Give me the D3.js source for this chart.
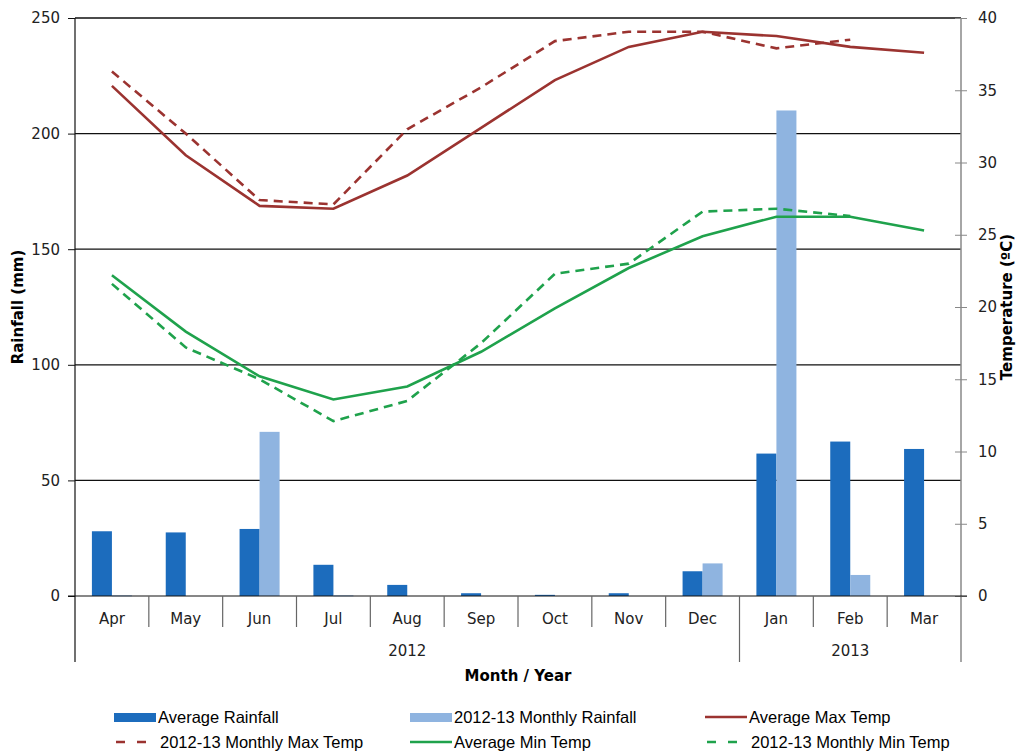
<!DOCTYPE html>
<html>
<head>
<meta charset="utf-8">
<script src="https://cdn.jsdelivr.net/npm/d3@7"></script>
<style>
  body { margin: 0; background: #fff; }
  svg { display: block; }
  .tick text { font-family: "DejaVu Sans", Verdana, sans-serif; font-size: 15px; fill: #222; }
  .title { font-family: "DejaVu Sans", Verdana, sans-serif; font-size: 15px; font-weight: bold; fill: #000; }
  .legend text { font-family: "Liberation Sans Narrow", "Liberation Sans", Arial, sans-serif; font-size: 16.5px; fill: #000; }
</style>
</head>
<body>
<div id="chart"></div>
<script>
// Data
const months = ["Apr", "May", "Jun", "Jul", "Aug", "Sep", "Oct", "Nov", "Dec", "Jan", "Feb", "Mar"];
const years = [
  { label: "2012", first: 0, last: 8 },
  { label: "2013", first: 9, last: 11 }
];
const avgRain     = [28, 27.5, 29, 13.5, 4.8, 1.2, 0.5, 1.2, 10.7, 61.6, 66.8, 63.6];
const monthlyRain = [0.3, 0, 71, 0.3, 0, 0, 0, 0, 14.1, 210, 9.1, null];
const avgMax      = [35.3, 30.5, 27.0, 26.8, 29.1, 32.4, 35.7, 38.0, 39.05, 38.75, 38.0, 37.6];
const monthlyMax  = [36.3, 32.0, 27.4, 27.1, 32.3, 35.2, 38.4, 39.05, 39.05, 37.9, 38.5, null];
const avgMin      = [22.2, 18.3, 15.2, 13.6, 14.5, 16.9, 19.9, 22.7, 24.9, 26.25, 26.25, 25.3];
const monthlyMin  = [21.6, 17.2, 15.0, 12.1, 13.5, 17.5, 22.3, 23.0, 26.6, 26.8, 26.3, null];
const rainTicks = [0, 50, 100, 150, 200, 250];
const tempTicks = [0, 5, 10, 15, 20, 25, 30, 35, 40];

const width = 1019, height = 753;
const margin = { top: 18, right: 58, bottom: 157, left: 75 };
const innerW = width - margin.left - margin.right;
const innerH = height - margin.top - margin.bottom;

const darkBlue = "#1c6cbd", lightBlue = "#8fb4e0";
const maxColor = "#9b3330", minColor = "#1fa24c";

const svg = d3.select("#chart").append("svg")
    .attr("width", width)
    .attr("height", height);

const g = svg.append("g")
    .attr("transform", "translate(" + margin.left + "," + margin.top + ")");

// Scales
const x = d3.scaleBand().domain(months).range([0, innerW]).padding(0);
const xSub = d3.scaleBand().domain(["avg", "monthly"])
    .range([0, x.bandwidth()]).paddingInner(0).paddingOuter(0.845);
const yRain = d3.scaleLinear().domain([0, 250]).range([innerH, 0]);
const yTemp = d3.scaleLinear().domain([0, 40]).range([innerH, 0]);

// Gridlines
g.append("g")
    .selectAll("line")
    .data(rainTicks.slice(1))
    .enter().append("line")
    .attr("x1", 0).attr("x2", innerW)
    .attr("y1", d => yRain(d)).attr("y2", d => yRain(d))
    .attr("stroke", "#111").attr("stroke-width", 1.2);

// Bars
const barData = [];
months.forEach((m, i) => {
  barData.push({ month: m, key: "avg", value: avgRain[i] });
  if (monthlyRain[i] !== null) barData.push({ month: m, key: "monthly", value: monthlyRain[i] });
});

g.append("g")
    .selectAll("rect")
    .data(barData)
    .enter().append("rect")
    .attr("x", d => x(d.month) + xSub(d.key))
    .attr("width", xSub.bandwidth())
    .attr("y", d => yRain(d.value))
    .attr("height", d => Math.max(innerH - yRain(d.value), d.value > 0 ? 1 : 0))
    .attr("fill", d => d.key === "avg" ? darkBlue : lightBlue);

// Lines
const line = d3.line()
    .defined(d => d !== null)
    .x((d, i) => x(months[i]) + x.bandwidth() / 2)
    .y(d => yTemp(d));

const series = [
  { values: avgMax, color: maxColor, dash: null },
  { values: monthlyMax, color: maxColor, dash: "9,6" },
  { values: avgMin, color: minColor, dash: null },
  { values: monthlyMin, color: minColor, dash: "9,6" }
];

g.append("g")
    .selectAll("path")
    .data(series)
    .enter().append("path")
    .attr("d", d => line(d.values))
    .attr("fill", "none")
    .attr("stroke", d => d.color)
    .attr("stroke-width", 2.6)
    .attr("stroke-dasharray", d => d.dash);

// Left axis
const leftAxis = g.append("g")
    .call(d3.axisLeft(yRain).tickValues(rainTicks).tickSize(7).tickPadding(8));
leftAxis.select(".domain").remove();
leftAxis.selectAll(".tick line").attr("stroke", "#111");
g.append("line")
    .attr("x1", 0).attr("x2", 0).attr("y1", 0).attr("y2", innerH + 66)
    .attr("stroke", "#111").attr("stroke-width", 1.2);

// Top border at 250
g.append("line")
    .attr("x1", 0).attr("x2", innerW).attr("y1", 0).attr("y2", 0)
    .attr("stroke", "#111").attr("stroke-width", 1.2);

// Right axis
const rightAxis = g.append("g")
    .attr("transform", "translate(" + innerW + ",0)")
    .call(d3.axisRight(yTemp).tickValues(tempTicks).tickSize(6).tickPadding(11));
rightAxis.select(".domain").remove();
rightAxis.selectAll(".tick line").attr("x1", -6).attr("stroke", "#888");
g.append("line")
    .attr("x1", innerW).attr("x2", innerW).attr("y1", 0).attr("y2", innerH + 66)
    .attr("stroke", "#888").attr("stroke-width", 1.5);

// Category axis
g.append("line")
    .attr("x1", -7).attr("x2", innerW + 6).attr("y1", innerH).attr("y2", innerH)
    .attr("stroke", "#111").attr("stroke-width", 1.2);

g.append("g")
    .selectAll("line")
    .data(months.slice(1))
    .enter().append("line")
    .attr("x1", d => x(d)).attr("x2", d => x(d))
    .attr("y1", innerH).attr("y2", (d) => years.some(y => months[y.first] === d) ? innerH + 66 : innerH + 31)
    .attr("stroke", "#666").attr("stroke-width", 1.2);

g.append("g")
    .attr("class", "tick")
    .selectAll("text")
    .data(months)
    .enter().append("text")
    .attr("x", d => x(d) + x.bandwidth() / 2)
    .attr("y", innerH + 28)
    .attr("text-anchor", "middle")
    .text(d => d);

g.append("g")
    .attr("class", "tick")
    .selectAll("text")
    .data(years)
    .enter().append("text")
    .attr("x", d => (x(months[d.first]) + x(months[d.last]) + x.bandwidth()) / 2)
    .attr("y", innerH + 60)
    .attr("text-anchor", "middle")
    .text(d => d.label);

// Axis titles
svg.append("text")
    .attr("class", "title")
    .attr("text-anchor", "middle")
    .attr("transform", "translate(23," + (margin.top + innerH / 2) + ")rotate(-90)")
    .text("Rainfall (mm)");

svg.append("text")
    .attr("class", "title")
    .attr("text-anchor", "middle")
    .attr("transform", "translate(1012," + (margin.top + innerH / 2) + ")rotate(-90)")
    .text("Temperature (ºC)");

svg.append("text")
    .attr("class", "title")
    .attr("text-anchor", "middle")
    .attr("x", 518)
    .attr("y", 681)
    .text("Month / Year");

// Legend
const legendItems = [
  { label: "Average Rainfall", type: "bar", color: darkBlue, col: 0, row: 0 },
  { label: "2012-13 Monthly Rainfall", type: "bar", color: lightBlue, col: 1, row: 0 },
  { label: "Average Max Temp", type: "line", color: maxColor, col: 2, row: 0 },
  { label: "2012-13 Monthly Max Temp", type: "dash", color: maxColor, col: 0, row: 1 },
  { label: "Average Min Temp", type: "line", color: minColor, col: 1, row: 1 },
  { label: "2012-13 Monthly Min Temp", type: "dash", color: minColor, col: 2, row: 1 }
];
const colX = [114, 410, 705];
const rowY = [717, 742];

const legend = svg.append("g").attr("class", "legend");
const item = legend.selectAll("g")
    .data(legendItems)
    .enter().append("g")
    .attr("transform", d => "translate(" + colX[d.col] + "," + rowY[d.row] + ")");

item.filter(d => d.type === "bar").append("rect")
    .attr("x", 0).attr("y", -4).attr("width", 42).attr("height", 9)
    .attr("fill", d => d.color);

item.filter(d => d.type !== "bar").append("line")
    .attr("x1", d => d.type === "dash" ? 2 : 0).attr("x2", 42)
    .attr("y1", 0).attr("y2", 0)
    .attr("stroke", d => d.color)
    .attr("stroke-width", 2.6)
    .attr("stroke-dasharray", d => d.type === "dash" ? "9,12" : null);

item.append("text")
    .attr("x", d => d.type === "dash" ? 46 : 44)
    .attr("y", 6)
    .text(d => d.label);
</script>
</body>
</html>
